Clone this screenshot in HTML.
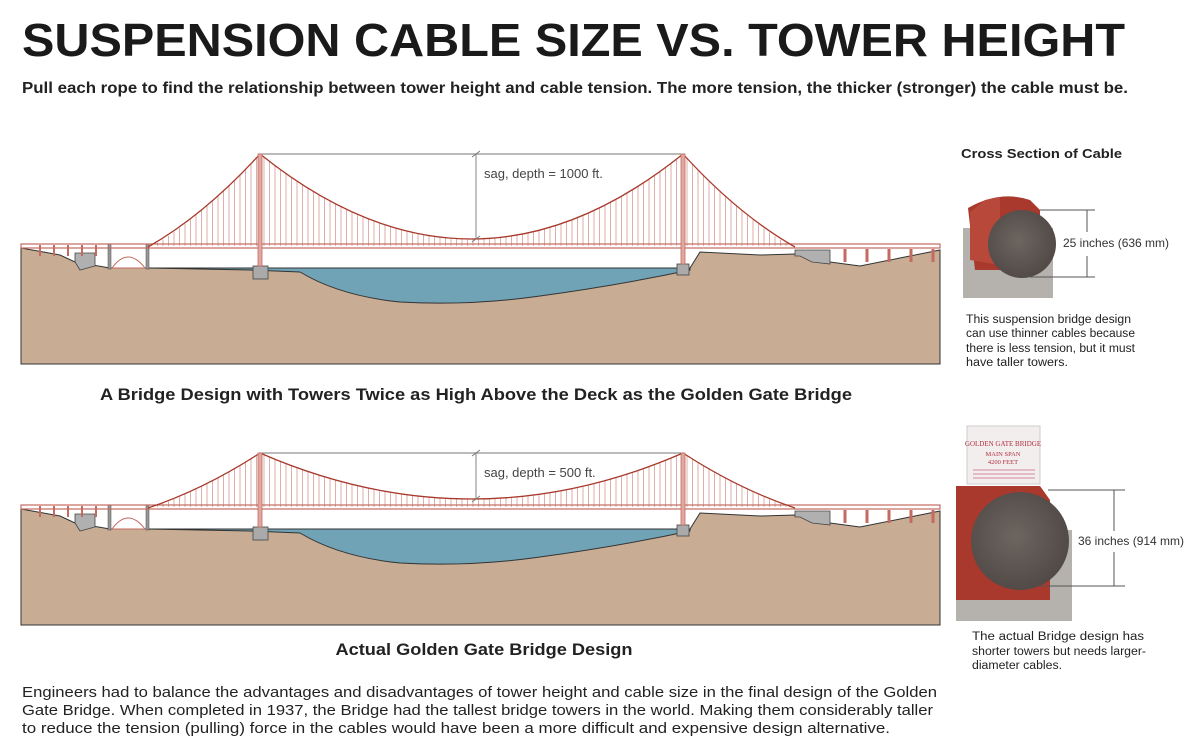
<!DOCTYPE html>
<html><head><meta charset="utf-8"><style>
html,body{margin:0;padding:0;background:#fff;}
svg{display:block;font-family:"Liberation Sans",sans-serif;}
</style></head><body>
<svg id="s" width="1202" height="749" viewBox="0 0 1202 749" xmlns="http://www.w3.org/2000/svg">
<defs>
<radialGradient id="cg" cx="0.45" cy="0.45" r="0.6"><stop offset="0" stop-color="#6e6560"/><stop offset="1" stop-color="#4f4845"/></radialGradient>
</defs>
<text x="22" y="56" font-size="46" font-weight="bold" fill="#1a1a1a" textLength="1103" lengthAdjust="spacingAndGlyphs">SUSPENSION CABLE SIZE VS. TOWER HEIGHT</text>
<text x="22" y="93" font-size="15.5" font-weight="bold" fill="#222" textLength="1106" lengthAdjust="spacingAndGlyphs">Pull each rope to find the relationship between tower height and cable tension.  The more tension, the thicker (stronger) the cable must be.</text>

<g id="b1"></g>
<g id="b2"></g>

<text x="476" y="400" font-size="17" font-weight="bold" fill="#222" text-anchor="middle" textLength="752" lengthAdjust="spacingAndGlyphs">A Bridge Design with Towers Twice as High Above the Deck as the Golden Gate Bridge</text>
<text x="484" y="655" font-size="17" font-weight="bold" fill="#222" text-anchor="middle" textLength="297" lengthAdjust="spacingAndGlyphs">Actual Golden Gate Bridge Design</text>
<g font-size="15" fill="#222">
<text x="22" y="697" textLength="915" lengthAdjust="spacingAndGlyphs">Engineers had to balance the advantages and disadvantages of tower height and cable size in the final design of the Golden</text>
<text x="22" y="715" textLength="911" lengthAdjust="spacingAndGlyphs">Gate Bridge.  When completed in 1937, the Bridge had the tallest bridge towers in the world.  Making them considerably taller</text>
<text x="22" y="733" textLength="868" lengthAdjust="spacingAndGlyphs">to reduce the tension (pulling) force in the cables would have been a more difficult and expensive design alternative.</text>
</g>

<!-- right column -->
<text x="961" y="158" font-size="13" font-weight="bold" fill="#222" textLength="161" lengthAdjust="spacingAndGlyphs">Cross Section of Cable</text>
<!-- cable 1 -->
<rect x="963" y="228" width="90" height="70" fill="#b5b2ae"/>
<path d="M968 208 Q1000 190 1030 200 L1040 210 L1040 270 L975 270 Z" fill="#a8392c"/>
<path d="M970 212 L985 200 L1000 197 L1000 265 L970 260 Z" fill="#b8483a"/>
<circle cx="1022" cy="244" r="34" fill="url(#cg)"/>
<g stroke="#555" stroke-width="1" fill="none"><path d="M1040 210 H1095 M1030 277 H1095 M1087 210 V232 M1087 256 V277"/></g>
<text x="1063" y="247" font-size="12" fill="#333">25 inches (636 mm)</text>
<g font-size="11.5" fill="#222">
<text x="966" y="323" textLength="165" lengthAdjust="spacingAndGlyphs">This suspension bridge design</text>
<text x="966" y="337" textLength="169" lengthAdjust="spacingAndGlyphs">can use thinner cables because</text>
<text x="966" y="352" textLength="169" lengthAdjust="spacingAndGlyphs">there is less tension, but it must</text>
<text x="966" y="366" textLength="102" lengthAdjust="spacingAndGlyphs">have taller towers.</text>
</g>
<!-- cable 2 -->
<rect x="967" y="426" width="73" height="58" fill="#f3eeee" stroke="#ccc"/>
<text x="1003" y="446" font-size="7" fill="#b03040" text-anchor="middle" font-family="Liberation Serif,serif">GOLDEN GATE BRIDGE</text>
<text x="1003" y="456" font-size="6.5" fill="#b03040" text-anchor="middle" font-family="Liberation Serif,serif">MAIN SPAN</text>
<text x="1003" y="464" font-size="6.5" fill="#b03040" text-anchor="middle" font-family="Liberation Serif,serif">4200 FEET</text>
<g stroke="#c68" stroke-width="0.7"><path d="M973 470 H1035 M973 474 H1035 M973 478 H1035"/></g>
<rect x="956" y="530" width="116" height="91" fill="#b5b2ae"/>
<path d="M956 486 L1040 486 L1050 500 L1050 600 L956 600 Z" fill="#a8392c"/>
<circle cx="1020" cy="541" r="49" fill="url(#cg)"/>
<g stroke="#555" stroke-width="1" fill="none"><path d="M1048 490 H1125 M1040 586 H1125 M1114 490 V531 M1114 552 V586"/></g>
<text x="1078" y="545" font-size="12" fill="#333">36 inches (914 mm)</text>
<g font-size="11.5" fill="#222">
<text x="972" y="640" textLength="172" lengthAdjust="spacingAndGlyphs">The actual Bridge design has</text>
<text x="972" y="655" textLength="174" lengthAdjust="spacingAndGlyphs">shorter towers but needs larger-</text>
<text x="972" y="669" textLength="90" lengthAdjust="spacingAndGlyphs">diameter cables.</text>
</g>
</svg>
<script>
var NS="http://www.w3.org/2000/svg";
function el(g,t,a){var e=document.createElementNS(NS,t);for(var k in a)e.setAttribute(k,a[k]);g.appendChild(e);return e;}
function bridge(id,dy,top,low,label){
 var g=document.getElementById(id);
 var D=247; // deck y (before offset)
 function Y(y){return y+dy;}
 // ground
 el(g,"path",{d:"M21 "+Y(248)+" L60 "+Y(255)+" L75 "+Y(262)+" L110 "+Y(268)+" L148 "+Y(268)+" L690 "+Y(268)+" L700 "+Y(252)+" L760 "+Y(255)+" L795 "+Y(254)+" L830 "+Y(262)+" L860 "+Y(266)+" L900 "+Y(258)+" L940 "+Y(250)+" L940 "+Y(364)+" L21 "+Y(364)+" Z",fill:"#c8ad94",stroke:"#333","stroke-width":1});
 // water
 el(g,"path",{d:"M148 "+Y(268)+" L250 "+Y(270)+" L300 "+Y(272)+" Q340 "+Y(296)+" 400 "+Y(302)+" Q470 "+Y(306)+" 540 "+Y(296)+" Q620 "+Y(285)+" 690 "+Y(270)+" L690 "+Y(268)+" Z",fill:"#6fa3b5",stroke:"#333","stroke-width":1});
 // abutments
 el(g,"path",{d:"M75 "+Y(253)+" L95 "+Y(253)+" L95 "+Y(266)+" L80 "+Y(270)+" L75 "+Y(262)+" Z",fill:"#b0b0b0",stroke:"#444","stroke-width":0.8});
 el(g,"path",{d:"M112 "+Y(268)+" Q128 "+Y(246)+" 145 "+Y(268)+" Z",fill:"#fff",stroke:"#c46a60","stroke-width":1});
 el(g,"rect",{x:108,y:Y(244),width:3,height:25,fill:"#999",stroke:"#444","stroke-width":0.5});
 el(g,"rect",{x:146,y:Y(244),width:3,height:25,fill:"#999",stroke:"#444","stroke-width":0.5});
 el(g,"path",{d:"M795 "+Y(250)+" L830 "+Y(250)+" L830 "+Y(264)+" L812 "+Y(262)+" L800 "+Y(256)+" L795 "+Y(256)+" Z",fill:"#b0b0b0",stroke:"#444","stroke-width":0.8});
 // piers
 el(g,"rect",{x:253,y:Y(266),width:15,height:13,fill:"#aaa",stroke:"#444","stroke-width":0.8});
 el(g,"rect",{x:677,y:Y(264),width:12,height:11,fill:"#aaa",stroke:"#444","stroke-width":0.8});
 // approach trestles
 for(var x=40;x<108;x+=14) el(g,"line",{x1:x,y1:Y(245),x2:x,y2:Y(256),stroke:"#c46a60","stroke-width":2});
 for(var x=845;x<935;x+=22) el(g,"line",{x1:x,y1:Y(249),x2:x,y2:Y(262),stroke:"#c46a60","stroke-width":3});
 var cy=top, cl=low, ctrl=2*cl-cy;
 // hangers main span
 var s="";
 for(var x=264;x<682;x+=5.5){var t=(x-260)/423;var y=(1-t)*(1-t)*cy+2*t*(1-t)*ctrl+t*t*cy;if(Y(D)-y>1)s+="M"+x+" "+y+"V"+Y(D-1);}
 // side spans
 for(var x=152;x<258;x+=5.5){var t=(x-148)/112;var y=Y(D)+(cy-Y(D))*Math.pow(t,1.25);s+="M"+x+" "+y+"V"+Y(D-1);}
 for(var x=687;x<793;x+=5.5){var t=(795-x)/112;var y=Y(D)+(cy-Y(D))*Math.pow(t,1.25);s+="M"+x+" "+y+"V"+Y(D-1);}
 el(g,"path",{d:s,stroke:"#d79a92","stroke-width":0.8,fill:"none"});
 // deck
 el(g,"rect",{x:21,y:Y(D-3),width:919,height:4,fill:"none",stroke:"#c46a60","stroke-width":1.2});
 // cables
 var c="M148 "+Y(D)+" Q205 "+(Y(D)-(Y(D)-cy)*0.35)+" 260 "+cy+" Q471.5 "+ctrl+" 683 "+cy+" Q738 "+(Y(D)-(Y(D)-cy)*0.35)+" 795 "+Y(D);
 el(g,"path",{d:c,stroke:"#a8392c","stroke-width":1.3,fill:"none"});
 // towers
 el(g,"rect",{x:258,y:cy,width:4,height:Y(266)-cy,fill:"#e0a8a0",stroke:"#c46a60","stroke-width":0.8});
 el(g,"rect",{x:681,y:cy,width:4,height:Y(264)-cy,fill:"#e0a8a0",stroke:"#c46a60","stroke-width":0.8});
 // dimension
 el(g,"path",{d:"M262 "+cy+" H681 M476 "+cy+" V"+cl+" M472 "+(cy+3)+" L480 "+(cy-3)+" M472 "+(cl+3)+" L480 "+(cl-3),stroke:"#777","stroke-width":0.9,fill:"none"});
 var tx=el(g,"text",{x:484,y:cy+24,"font-size":13,fill:"#444"});tx.textContent=label;
}
bridge("b1",0,154,239,"sag, depth = 1000 ft.");
bridge("b2",261,453,499,"sag, depth = 500 ft.");
</script>
</body></html>
